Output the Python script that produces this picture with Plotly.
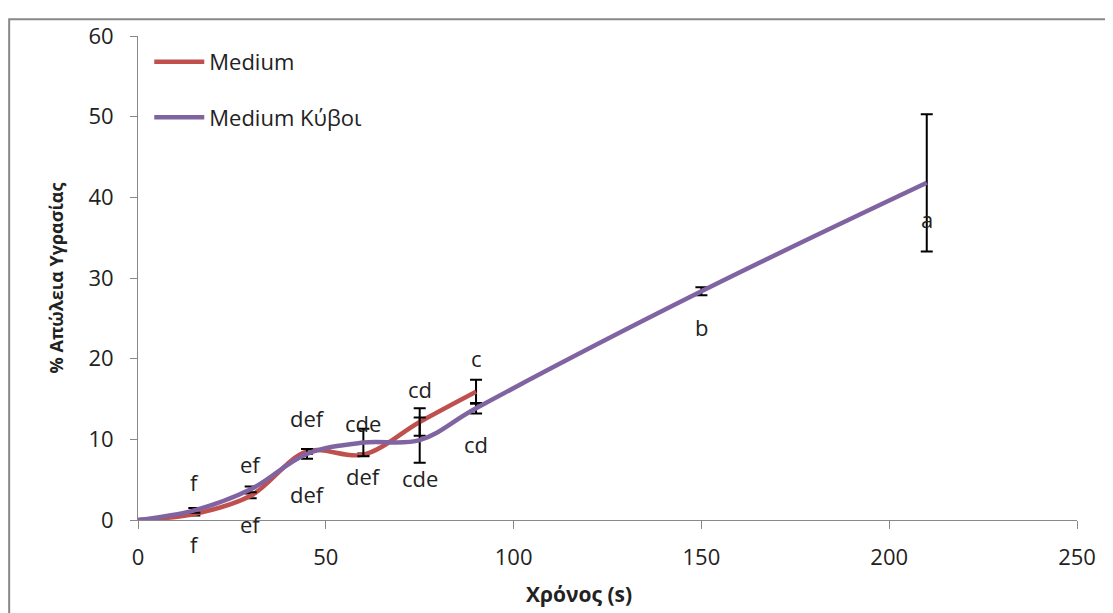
import plotly.graph_objects as go

# ---- data ----
time_medium = [0, 15, 30, 45, 60, 75, 90]
loss_medium = [0, 0.75, 3.0, 8.5, 8.1, 12.15, 15.9]
err_medium = [0, 0.2, 0.3, 0.3, 0.15, 1.7, 1.5]
labels_medium = ["", "f", "ef", "def", "def", "cd", "c"]

time_cubes = [0, 15, 30, 45, 60, 75, 90, 150, 210]
loss_cubes = [0, 1.2, 3.8, 8.2, 9.6, 9.9, 13.85, 28.35, 41.8]
err_cubes = [0, 0.3, 0.35, 0.6, 1.7, 2.8, 0.65, 0.5, 8.5]
labels_cubes = ["", "f", "ef", "def", "cde", "cde", "cd", "b", "a"]

x_ticks = [0, 50, 100, 150, 200, 250]
y_ticks = [0, 10, 20, 30, 40, 50, 60]

# label offsets (pixels, styling only)
shift_medium = [0, 32, 32, 33, -21, 33, 34]
shift_cubes = [0, -34, -35, -40, 20, -38, -36, -36, -36]

RED = "#C0504D"
PURPLE = "#8064A2"
FONT = "Open Sans, DejaVu Sans, sans-serif"

fig = go.Figure()
fig.add_trace(go.Scatter(
    x=time_medium, y=loss_medium, mode="lines", name="Medium",
    line=dict(color=RED, width=4.5, shape="spline", smoothing=1.0),
    error_y=dict(type="data", array=err_medium, color="black", thickness=2, width=6),
    legendgroup="g1",
))
fig.add_trace(go.Scatter(
    x=time_cubes, y=loss_cubes, mode="lines", name="Medium Κύβοι",
    line=dict(color=PURPLE, width=4.5, shape="spline", smoothing=1.0),
    error_y=dict(type="data", array=err_cubes, color="black", thickness=2, width=6),
    legendgroup="g2",
))

annotations = []
for xs, ys, labs, shifts in [(time_medium, loss_medium, labels_medium, shift_medium),
                             (time_cubes, loss_cubes, labels_cubes, shift_cubes)]:
    for x, y, t, s in zip(xs, ys, labs, shifts):
        if t:
            annotations.append(dict(x=x, y=y, text=t, showarrow=False, yshift=s,
                                    font=dict(family=FONT, size=22, color="#222")))

# x-axis title (placed like the original, left of centre)
annotations.append(dict(xref="paper", yref="paper", x=0.4696, y=-0.1538,
                        xanchor="center", yanchor="middle", showarrow=False,
                        text="<b>Χρόνος (s)</b>",
                        font=dict(family=FONT, size=21, color="#222")))

fig.update_layout(
    width=1113, height=613,
    margin=dict(l=130, r=44, t=18, b=101),
    paper_bgcolor="white", plot_bgcolor="white",
    font=dict(family=FONT, color="#222"),
    showlegend=True,
    legend=dict(x=0.012, y=0.99, xanchor="left", yanchor="top",
                font=dict(family=FONT, size=22, color="#222"),
                tracegroupgap=24, itemwidth=50, bgcolor="rgba(0,0,0,0)"),
    annotations=annotations,
    shapes=[dict(type="rect", xref="paper", yref="paper",
                 x0=-0.1372, x1=1.2, y0=-0.3, y1=1.0344,
                 line=dict(color="#888888", width=2), layer="below")],
)
fig.update_xaxes(range=[0, 250], tickvals=x_ticks, showgrid=False, zeroline=False,
                 showline=True, linecolor="#888888", linewidth=1,
                 ticks="outside", tickcolor="#888888", ticklen=8,
                 ticklabelstandoff=10,
                 tickfont=dict(family=FONT, size=22, color="#222"))
fig.update_yaxes(range=[0, 60], tickvals=y_ticks, showgrid=False, zeroline=False,
                 showline=True, linecolor="#888888", linewidth=1,
                 ticks="outside", tickcolor="#888888", ticklen=7,
                 ticklabelstandoff=12,
                 tickfont=dict(family=FONT, size=22, color="#222"),
                 title=dict(text="<b>% Απώλεια Υγρασίας</b>", font=dict(family=FONT, size=18, color="#222"),
                            standoff=20))

fig.write_html("out.html")
